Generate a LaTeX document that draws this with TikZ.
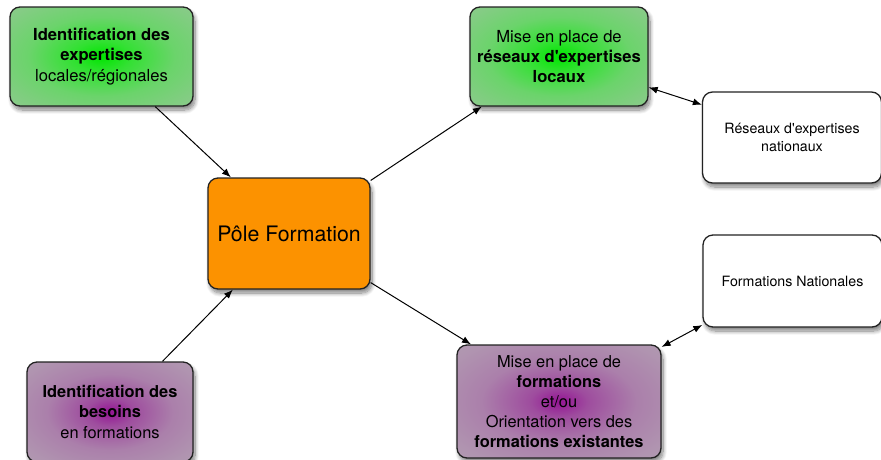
\documentclass[tikz,border=0pt]{standalone}
\usepackage{fontspec}
\setmainfont{TeX Gyre Heros}
\newfontfamily\plainheros{TeX Gyre Heros}
\usetikzlibrary{shadows.blur,arrows.meta}
\pgfdeclareradialshading{greenglow}{\pgfpoint{0bp}{0bp}}{rgb(0bp)=(0,0.9,0); rgb(8bp)=(0.2,0.88,0.2); rgb(20bp)=(0.42,0.83,0.42); rgb(32bp)=(0.52,0.8,0.52); rgb(44bp)=(0.61,0.76,0.61); rgb(50bp)=(0.65,0.74,0.65)}
\pgfdeclareradialshading{purpleglow}{\pgfpoint{0bp}{0bp}}{rgb(0bp)=(0.58,0.08,0.58); rgb(7bp)=(0.62,0.3,0.62); rgb(19bp)=(0.67,0.5,0.67); rgb(31bp)=(0.69,0.58,0.69); rgb(43bp)=(0.7,0.64,0.7); rgb(50bp)=(0.71,0.67,0.71)}
\definecolor{poleorange}{RGB}{252,146,0}
\definecolor{edgegray}{RGB}{34,34,34}
\newcommand{\sq}{{\plainheros\char39}}
\tikzset{
  box/.style={draw=edgegray, line width=1.3pt, rounded corners=10pt, inner sep=0pt, align=center,
    blur shadow={shadow xshift=2pt, shadow yshift=-4pt, shadow blur radius=4pt, shadow blur steps=10, shadow opacity=50}},
  greenbox/.style={box, shading=greenglow, font=\fontsize{16.6}{20.3}\selectfont},
  purplebox/.style={box, shading=purpleglow, font=\fontsize{16.4}{20.2}\selectfont},
  whitebox/.style={box, fill=white, font=\fontsize{14.2}{18}\selectfont},
  conn/.style={draw=black, line width=1pt, -{Latex[length=9pt,width=7pt]}},
  dconn/.style={draw=black, line width=1pt, {Latex[length=9pt,width=7pt]}-{Latex[length=9pt,width=7pt]}}
}
\begin{document}
\begin{tikzpicture}[x=1pt,y=-1pt]
\useasboundingbox (0,0) rectangle (881,459);
\node[greenbox, minimum width=183pt, minimum height=99pt] (tl) at (101.5,56.5)
  {\textbf{Identification des}\\\textbf{expertises}\\locales/régionales};
\node[box, fill=poleorange, minimum width=162pt, minimum height=111pt, font=\fontsize{21.3}{25}\selectfont] (pole) at (289,233.5)
  {Pôle Formation};
\node[greenbox, minimum width=178pt, minimum height=99pt] (tr) at (559,56.5)
  {Mise en place de\\\textbf{réseaux d\sq expertises}\\\textbf{locaux}};
\node[whitebox, minimum width=179pt, minimum height=91pt] (wr) at (792,137.5)
  {Réseaux d\sq expertises\\nationaux};
\node[whitebox, minimum width=179pt, minimum height=92pt] (wb) at (792.5,281)
  {Formations Nationales};
\node[purplebox, minimum width=204pt, minimum height=113pt] (bp) at (559,401.5)
  {Mise en place de\\\textbf{formations}\\et/ou\\Orientation vers des\\\textbf{formations existantes}};
\node[purplebox, minimum width=166pt, minimum height=100pt] (bl) at (110,412)
  {\textbf{Identification des}\\\textbf{besoins}\\en formations};
\draw[conn] (tl.-43.3) -- (pole.136.7);
\draw[conn] (bl.44.4) -- (pole.225.3);
\draw[conn] (pole.33.4) -- (tr.213.4);
\draw[conn] (pole.-31.7) -- (bp.147.4);
\draw[dconn] (tr.-19.1) -- (wr.160.7);
\draw[dconn] (bp.28.1) -- (wb.206.2);
\end{tikzpicture}
\end{document}
